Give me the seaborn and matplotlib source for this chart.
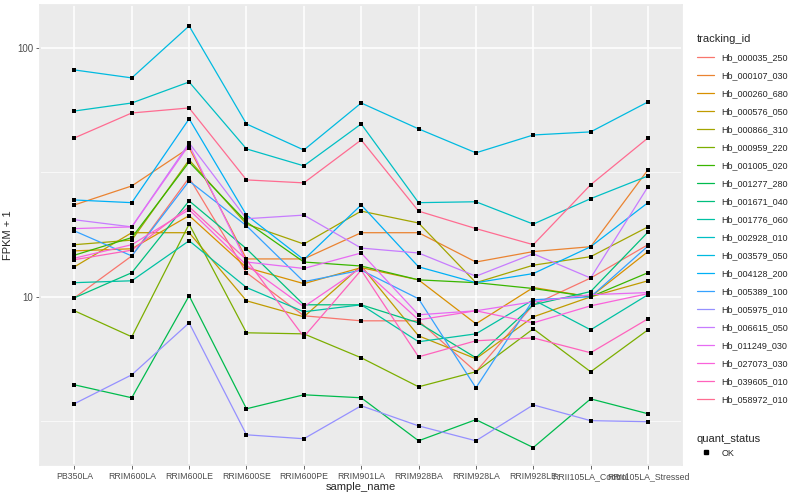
import numpy as np
import pandas as pd
import seaborn as sns
import matplotlib.pyplot as plt
from matplotlib.lines import Line2D

samples = ["PB350LA", "RRIM600LA", "RRIM600LE", "RRIM600SE", "RRIM600PE",
           "RRIM901LA", "RRIM928BA", "RRIM928LA", "RRIM928LE",
           "RRII105LA_Control", "RRII105LA_Stressed"]

# FPKM + 1
Hb_000035_250 = [9.91, 14.6, 30.1, 12.5, 8.39, 8.01, 8.01, 5.00, 9.29, 11.9, 16.2]
Hb_000107_030 = [23.4, 27.9, 39.7, 14.2, 14.2, 18.1, 18.1, 13.8, 15.2, 15.9, 32.4]
Hb_000260_680 = [15.3, 15.6, 21.2, 13.1, 11.3, 13.1, 11.7, 7.79, 10.9, 10.0, 15.2]
Hb_000576_050 = [13.2, 18.1, 18.1, 9.64, 8.31, 13.3, 6.97, 5.64, 8.31, 10.0, 11.6]
Hb_000866_310 = [16.2, 16.9, 35.5, 19.6, 16.3, 22.1, 19.8, 11.4, 13.4, 14.5, 19.1]
Hb_000959_220 = [8.79, 6.91, 19.6, 7.17, 7.10, 5.69, 4.35, 5.00, 7.44, 5.00, 7.37]
Hb_001005_020 = [14.7, 17.3, 34.8, 20.0, 13.8, 13.3, 11.7, 11.4, 10.8, 10.0, 12.5]
Hb_001277_280 = [4.43, 3.93, 10.1, 3.55, 4.04, 3.93, 2.64, 3.21, 2.48, 3.89, 3.39]
Hb_001671_040 = [9.91, 12.5, 24.3, 15.6, 9.29, 9.29, 7.86, 5.69, 9.29, 10.5, 18.2]
Hb_001776_060 = [11.4, 11.6, 16.8, 10.9, 8.71, 9.29, 6.60, 7.10, 9.73, 7.37, 10.2]
Hb_002928_010 = [55.8, 60.1, 73.0, 39.3, 33.6, 49.5, 23.9, 24.1, 19.6, 24.8, 30.6]
Hb_003579_050 = [81.6, 75.8, 122.6, 49.5, 38.9, 60.1, 47.3, 37.9, 44.7, 46.0, 60.7]
Hb_004128_200 = [24.5, 23.9, 51.9, 21.3, 14.1, 23.4, 13.2, 11.4, 12.4, 15.9, 23.9]
Hb_005389_100 = [18.4, 14.6, 29.2, 19.3, 11.5, 12.8, 9.82, 4.31, 9.73, 10.0, 16.0]
Hb_005975_010 = [3.72, 4.86, 7.86, 2.79, 2.69, 3.65, 3.03, 2.64, 3.68, 3.18, 3.15]
Hb_006615_050 = [20.4, 19.1, 41.5, 20.6, 21.3, 15.7, 15.0, 12.1, 14.9, 11.9, 27.7]
Hb_011249_030 = [18.8, 19.1, 40.8, 13.8, 13.0, 15.0, 8.47, 8.79, 9.55, 10.2, 10.4]
Hb_027073_030 = [14.3, 16.2, 22.4, 13.4, 9.12, 13.1, 8.08, 8.79, 7.86, 9.20, 10.3]
Hb_039605_010 = [14.1, 15.4, 23.0, 14.1, 6.91, 12.8, 5.74, 6.66, 6.84, 5.96, 8.16]
Hb_058972_010 = [43.5, 54.8, 57.4, 29.5, 28.7, 42.7, 22.1, 18.8, 16.2, 28.2, 43.5]

genes = {
    "Hb_000035_250": Hb_000035_250, "Hb_000107_030": Hb_000107_030,
    "Hb_000260_680": Hb_000260_680, "Hb_000576_050": Hb_000576_050,
    "Hb_000866_310": Hb_000866_310, "Hb_000959_220": Hb_000959_220,
    "Hb_001005_020": Hb_001005_020, "Hb_001277_280": Hb_001277_280,
    "Hb_001671_040": Hb_001671_040, "Hb_001776_060": Hb_001776_060,
    "Hb_002928_010": Hb_002928_010, "Hb_003579_050": Hb_003579_050,
    "Hb_004128_200": Hb_004128_200, "Hb_005389_100": Hb_005389_100,
    "Hb_005975_010": Hb_005975_010, "Hb_006615_050": Hb_006615_050,
    "Hb_011249_030": Hb_011249_030, "Hb_027073_030": Hb_027073_030,
    "Hb_039605_010": Hb_039605_010, "Hb_058972_010": Hb_058972_010,
}

# ggplot2 default hue palette for 20 levels
palette = ["#F8766D", "#EA8331", "#D89000", "#C09B00", "#A3A500", "#7CAE00",
           "#39B600", "#00BB4E", "#00BF7D", "#00C1A3", "#00BFC4", "#00BAE0",
           "#00B0F6", "#35A2FF", "#9590FF", "#C77CFF", "#E76BF3", "#FA62DB",
           "#FF62BC", "#FF6C91"]

rows = []
for g, vals in genes.items():
    for i, v in enumerate(vals):
        rows.append((g, samples[i], i, v, "OK"))
df = pd.DataFrame(rows, columns=["tracking_id", "sample_name", "pos", "fpkm", "quant_status"])

sns.set_theme(style="darkgrid", rc={
    "axes.facecolor": "#EBEBEB",
    "grid.color": "white",
    "axes.edgecolor": "#EBEBEB",
})
plt.rcParams["font.family"] = ["Liberation Sans", "DejaVu Sans"]

fig, ax = plt.subplots(figsize=(8, 5), dpi=100)
fig.subplots_adjust(left=0.05, right=0.853, top=0.99, bottom=0.07)

sns.lineplot(data=df, x="pos", y="fpkm", hue="tracking_id",
             palette=palette, linewidth=0.9, sort=False, ax=ax)
sns.scatterplot(data=df, x="pos", y="fpkm", color="black", marker="s",
                s=10, linewidth=0, legend=False, ax=ax, zorder=5)

ax.set_yscale("log")
ax.set_ylim(2.11, 148.8)
ax.set_xlim(-0.6, 10.6)
ax.set_yticks([10, 100])
ax.set_yticklabels(["10", "100"])
ax.set_yticks([np.sqrt(10), np.sqrt(1000)], minor=True)
ax.yaxis.set_minor_formatter(plt.NullFormatter())
ax.grid(which="major", color="white", linewidth=1.1)
ax.grid(which="minor", axis="y", color="white", linewidth=0.5)
ax.set_xticks(range(len(samples)))
ax.set_xticklabels(samples)
ax.tick_params(axis="x", labelsize=6.3, colors="#4D4D4D", length=3, width=0.6,
               direction="out", bottom=True, pad=2)
ax.tick_params(axis="y", which="major", labelsize=7, colors="#4D4D4D",
               length=3, width=0.6, left=True, pad=2)
ax.tick_params(axis="y", which="minor", length=0)
for lab in ax.get_xticklabels() + ax.get_yticklabels():
    lab.set_color("#4D4D4D")
ax.set_xlabel("sample_name", fontsize=8, labelpad=1)
ax.set_ylabel("FPKM + 1", fontsize=8, labelpad=3)

handles, labels = ax.get_legend_handles_labels()
leg1 = ax.legend(handles, labels, title="tracking_id", loc="upper left",
                 bbox_to_anchor=(1.01, 0.955), frameon=False, fontsize=6.5,
                 title_fontsize=8, handlelength=1.9, labelspacing=1.0,
                 alignment="left")
ax.add_artist(leg1)
ok = Line2D([], [], color="black", marker="s", markersize=2.5, linestyle="none")
ax.legend([ok], ["OK"], title="quant_status", loc="upper left",
          bbox_to_anchor=(1.01, 0.085), frameon=False, fontsize=6.5,
          title_fontsize=8, handlelength=1.9, alignment="left")

fig.savefig("out.png", dpi=100)
